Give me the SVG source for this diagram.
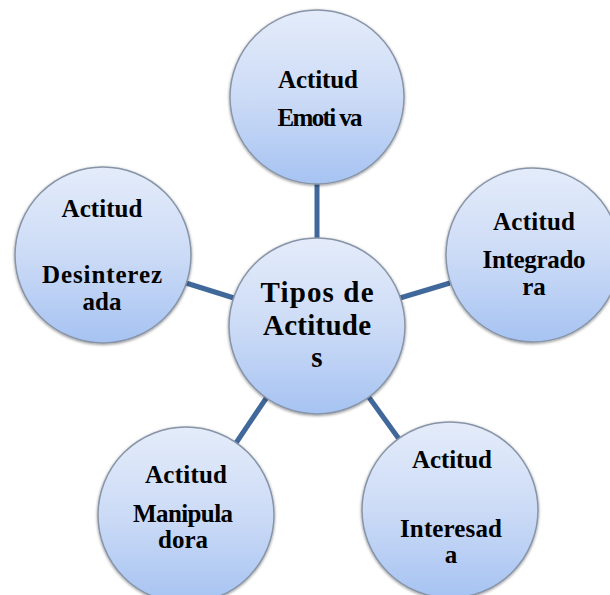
<svg xmlns="http://www.w3.org/2000/svg" width="610" height="595" viewBox="0 0 610 595">
<defs>
<linearGradient id="g" x1="0" y1="0" x2="0" y2="1">
<stop offset="0" stop-color="#E4ECFA"/>
<stop offset="0.5" stop-color="#CCDBF6"/>
<stop offset="1" stop-color="#A6C3F2"/>
</linearGradient>
<filter id="sh" x="-10%" y="-10%" width="120%" height="120%">
<feGaussianBlur in="SourceAlpha" stdDeviation="1.5"/>
<feOffset dx="0" dy="1" result="b"/>
<feComponentTransfer><feFuncA type="linear" slope="0.45"/></feComponentTransfer>
<feMerge><feMergeNode/><feMergeNode in="SourceGraphic"/></feMerge>
</filter>
</defs>
<style>
.c{fill:url(#g);stroke:#8895A8;stroke-width:1.5;filter:url(#sh)}
.t{font-weight:bold;font-size:25px;fill:#000;text-anchor:middle}
.big{font-size:29px}
.l{stroke:#41689A;stroke-width:5;fill:none}
</style>
<rect width="610" height="595" fill="#fff"/>
<g id="connectors">
<line class="l" x1="317" y1="184" x2="317" y2="238"/>
<line class="l" x1="186" y1="283" x2="234" y2="298"/>
<line class="l" x1="400" y1="298" x2="450" y2="283"/>
<line class="l" x1="267" y1="397" x2="236" y2="443"/>
<line class="l" x1="368" y1="396" x2="399" y2="439"/>
</g>
<g font-family="Liberation Serif, Times New Roman, serif">
<g id="n-top">
<circle class="c" cx="317" cy="97" r="87"/>
<text class="t" x="318" y="88" textLength="80">Actitud</text>
<text class="t" x="320" y="126" textLength="85">Emoti va</text>
</g>
<g id="n-left">
<circle class="c" cx="103" cy="255" r="88"/>
<text class="t" x="102" y="217" textLength="81">Actitud</text>
<text class="t" x="102" y="283" textLength="120">Desinterez</text>
<text class="t" x="102" y="310">ada</text>
</g>
<g id="n-right">
<circle class="c" cx="533" cy="255" r="87"/>
<text class="t" x="534" y="230" textLength="82">Actitud</text>
<text class="t" x="534" y="268" textLength="103">Integrado</text>
<text class="t" x="534" y="295">ra</text>
</g>
<g id="n-bl">
<circle class="c" cx="186" cy="515" r="88"/>
<text class="t" x="186" y="483" textLength="82">Actitud</text>
<text class="t" x="183" y="522" textLength="100">Manipula</text>
<text class="t" x="183" y="548">dora</text>
</g>
<g id="n-br">
<circle class="c" cx="450" cy="510" r="88"/>
<text class="t" x="452" y="468" textLength="80">Actitud</text>
<text class="t" x="451" y="537" textLength="102">Interesad</text>
<text class="t" x="451" y="563">a</text>
</g>
<g id="n-center">
<circle class="c" cx="317" cy="326" r="88"/>
<text class="t big" x="317" y="302" textLength="113">Tipos  de</text>
<text class="t big" x="317" y="335" textLength="108">Actitude</text>
<text class="t big" x="317" y="367">s</text>
</g>
</g>
</svg>
